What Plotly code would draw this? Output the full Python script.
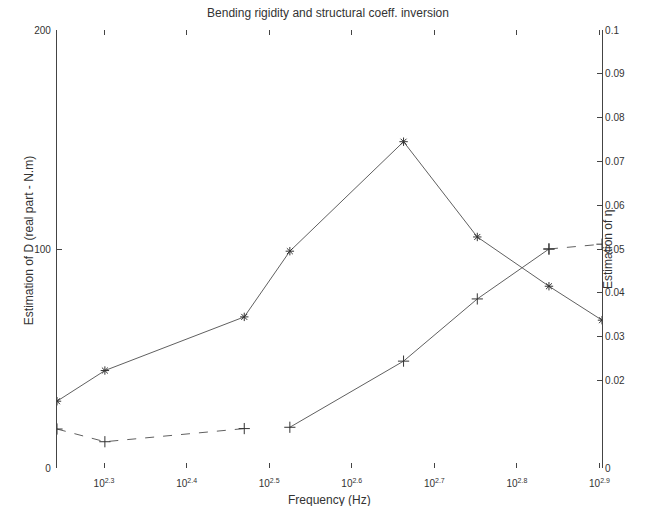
import numpy as np
import plotly.graph_objects as go

# Frequencies (Hz) at which the inversion was carried out
freq = [175, 200, 295, 335, 460, 565, 690, 800]
# Real part of the bending rigidity D (N.m)
rigidity = [30.5, 44.5, 69, 99, 149, 105.5, 83, 67.5]
# Structural damping coefficient eta
eta = [0.0089, 0.0060, 0.0090, 0.0093, 0.0244, 0.0386, 0.0500, 0.0511]

x_tick_exp = [2.3, 2.4, 2.5, 2.6, 2.7, 2.8, 2.9]
d_ticks = [0, 100, 200]
eta_ticks = [0, 0.02, 0.03, 0.04, 0.05, 0.06, 0.07, 0.08, 0.09, 0.1]

ink = "#333333"
axis_col = "#444444"
line_col = "#606060"
font = "Liberation Sans, Arial, sans-serif"

x_range = [np.log10(freq[0]), np.log10(freq[-1])]
tickvals = [10 ** e for e in x_tick_exp]
ticktext = ["10<sup>%g</sup>" % e for e in x_tick_exp]

fig = go.Figure()

# Bending rigidity, solid line with asterisks
fig.add_trace(go.Scatter(
    x=freq, y=rigidity, mode="lines+markers",
    line=dict(color=line_col, width=1),
    marker=dict(symbol="asterisk-open", size=7, color=ink,
                line=dict(color=ink, width=1)),
    yaxis="y", showlegend=False))

# Damping coefficient, plotted against the right-hand axis in three pieces
eta_pieces = [(0, 3, "dash"), (3, 7, "solid"), (6, 8, "dash")]
for a, b, dash in eta_pieces:
    fig.add_trace(go.Scatter(
        x=freq[a:b], y=eta[a:b], mode="lines+markers",
        line=dict(color=line_col, width=1, dash=dash),
        marker=dict(symbol="cross-thin-open", size=8, color=ink,
                    line=dict(color=ink, width=1)),
        yaxis="y2", showlegend=False))

fig.update_layout(
    width=647, height=506,
    margin=dict(l=57, r=45, t=30, b=38),
    paper_bgcolor="white", plot_bgcolor="white",
    font=dict(family=font, size=10, color=ink),
    title=dict(text="Bending rigidity and structural coeff. inversion",
               x=328 / 647, xanchor="center", y=1 - 13 / 506, yanchor="middle",
               font=dict(size=12, color=ink)),
    xaxis=dict(type="log", range=x_range, tickvals=tickvals, ticktext=ticktext,
               ticks="inside", ticklen=5, tickcolor=axis_col, showline=False,
               showgrid=False, zeroline=False, tickfont=dict(size=10),
               ticklabelstandoff=8),
    xaxis2=dict(type="log", range=x_range, tickvals=tickvals, overlaying="x",
                side="top", ticks="inside", ticklen=5, tickcolor=axis_col,
                showticklabels=False, showline=False, showgrid=False),
    yaxis=dict(range=[0, 200], tickvals=d_ticks, ticks="inside", ticklen=5,
               tickcolor=axis_col, showline=True, linecolor=axis_col, linewidth=1.2,
               showgrid=False, zeroline=False, tickfont=dict(size=10),
               ticklabelstandoff=3),
    yaxis2=dict(range=[0, 0.1], tickvals=eta_ticks,
                ticktext=["%g" % v for v in eta_ticks], overlaying="y",
                side="right", ticks="inside", ticklen=5, tickcolor=axis_col,
                showline=True, linecolor=axis_col, linewidth=1.2, showgrid=False,
                zeroline=False, tickfont=dict(size=10)),
    annotations=[
        dict(text="Estimation of D (real part - N.m)", xref="paper", yref="paper",
             x=-0.068, y=0.52, textangle=-90, showarrow=False,
             font=dict(size=12, color=ink)),
        dict(text="Estimation of η", xref="paper", yref="paper",
             x=1.0275, y=0.5, textangle=-90, showarrow=False,
             font=dict(size=12, color=ink)),
        dict(text="Frequency (Hz)", xref="paper", yref="paper",
             x=0.5, y=-0.072, showarrow=False, yanchor="middle",
             font=dict(size=12, color=ink)),
    ],
)

# empty trace bound to the top axis so its ticks are drawn
fig.add_trace(go.Scatter(x=[freq[0]], y=[None], xaxis="x2", showlegend=False,
                         hoverinfo="skip"))

fig.write_html("out.html")
